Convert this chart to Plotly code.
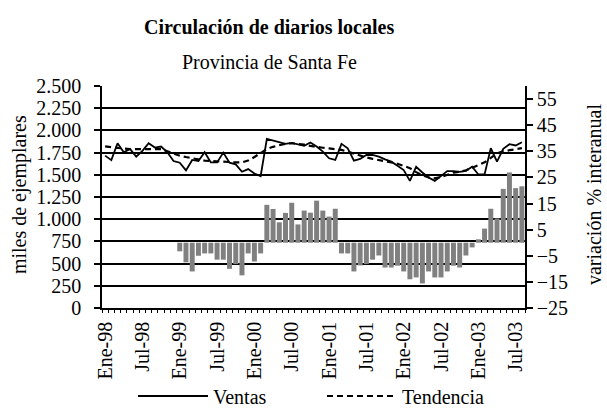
import plotly.graph_objects as go

# ---- data ----
mes_abr = ["Ene", "Feb", "Mar", "Abr", "May", "Jun", "Jul", "Ago", "Sep", "Oct", "Nov", "Dic"]
anios = ["98", "99", "00", "01", "02", "03"]
meses = [f"{m}-{a}" for a in anios for m in mes_abr][:68]  # Ene-98 .. Ago-03

tick_labels = ["Ene-98", "Jul-98", "Ene-99", "Jul-99", "Ene-00", "Jul-00",
               "Ene-01", "Jul-01", "Ene-02", "Jul-02", "Ene-03", "Jul-03"]

ventas = [1716, 1665, 1856, 1754, 1792, 1705, 1769, 1856, 1807, 1818, 1754, 1655,
          1636, 1550, 1667, 1655, 1754, 1640, 1640, 1750, 1636, 1617, 1534, 1564,
          1515, 1485, 1905, 1886, 1864, 1849, 1860, 1845, 1826, 1864, 1818, 1761,
          1686, 1667, 1849, 1799, 1659, 1678, 1723, 1723, 1705, 1674, 1648, 1602,
          1553, 1432, 1591, 1526, 1470, 1432, 1488, 1541, 1541, 1534, 1545, 1591,
          1504, 1504, 1799, 1648, 1792, 1845, 1830, 1867]

tendencia = [1820, 1810, 1800, 1795, 1790, 1790, 1790, 1795, 1795, 1790, 1765, 1740,
             1715, 1700, 1685, 1670, 1660, 1655, 1650, 1648, 1645, 1640, 1640, 1660,
             1700, 1750, 1790, 1815, 1835, 1850, 1855, 1850, 1840, 1825, 1812, 1805,
             1798, 1790, 1780, 1760, 1738, 1715, 1695, 1680, 1668, 1655, 1640, 1625,
             1600, 1575, 1530, 1495, 1470, 1460, 1475, 1500, 1525, 1535, 1550, 1580,
             1610, 1640, 1690, 1740, 1765, 1775, 1790, 1800]

variacion = [None] * 12 + [
    -3.3, -7.5, -11.0, -5.0, -4.1, -4.1, -6.5, -6.5, -10.0, -8.2, -12.5, -4.1,
    -7.2, -4.1, 14.5, 12.9, 7.8, 11.4, 15.3, 7.0, 12.3, 11.5, 16.1, 12.3,
    10.0, 13.0, -4.1, -4.1, -11.0, -8.7, -8.2, -6.5, -4.9, -9.5, -9.5, -8.8,
    -11.0, -14.0, -13.3, -15.6, -11.0, -13.3, -13.3, -11.0, -8.8, -9.5, -4.9, -1.8,
    1.3, 5.4, 13.0, 9.3, 20.6, 26.9, 20.9, 21.6]

left_ticks = list(range(0, 2501, 250))
right_ticks = list(range(-25, 56, 10))

FONT = "Liberation Serif"

fig = go.Figure()

fig.add_trace(go.Bar(
    x=meses, y=variacion, xaxis="x2", yaxis="y2",
    marker=dict(color="#808080", line=dict(width=0)),
    width=0.8, showlegend=False, name="Variación"))

fig.add_trace(go.Scatter(
    x=meses, y=ventas, mode="lines", name="Ventas",
    line=dict(color="black", width=1.8)))

fig.add_trace(go.Scatter(
    x=meses, y=tendencia, mode="lines", name="Tendencia",
    line=dict(color="black", width=2.2, dash="6px,4px")))

fig.update_layout(
    width=607, height=408,
    margin=dict(l=102, r=82, t=86, b=100, autoexpand=False),
    paper_bgcolor="white", plot_bgcolor="white",
    font=dict(family=FONT, size=20, color="black"),
    separators=",.",
    bargap=0.2,
    xaxis=dict(
        type="category", range=[-0.5, 67.5],
        tickmode="array", tickvals=[meses[i] for i in range(0, 68, 6)],
        ticktext=tick_labels, tickangle=-90, ticks="",
        showline=True, linecolor="black", linewidth=1.5,
        showgrid=False, zeroline=False, automargin=False,
        ticklabelstandoff=4,
        tickfont=dict(family=FONT, size=20)),
    xaxis2=dict(
        type="category", overlaying="x", anchor="y2", side="bottom",
        range=[-0.5, 67.5], tickmode="linear", dtick=1,
        tickson="boundaries", ticks="outside", ticklen=4, tickwidth=1,
        tickcolor="black", showticklabels=False, showgrid=False,
        showline=False, zeroline=False),
    yaxis=dict(
        range=[0, 2500], tickvals=left_ticks, tickformat=",d",
        ticks="outside", ticklen=6, tickcolor="black", tickwidth=1.5,
        showline=True, linecolor="black", linewidth=1.5,
        showgrid=True, gridcolor="black", gridwidth=1.5, zeroline=False,
        automargin=False, ticklabelstandoff=9,
        tickfont=dict(family=FONT, size=20)),
    yaxis2=dict(
        overlaying="y", side="right", anchor="x2",
        range=[-25, 60], tickvals=right_ticks,
        ticks="outside", ticklen=6, tickcolor="black", tickwidth=1.5,
        showline=True, linecolor="black", linewidth=1.5,
        showgrid=False, zeroline=False, automargin=False,
        tickfont=dict(family=FONT, size=20)),
    legend=dict(
        orientation="h", xref="container", yref="container",
        x=133 / 607, xanchor="left", y=1 - 396 / 408, yanchor="middle",
        font=dict(family=FONT, size=20), itemwidth=70,
        entrywidth=104, entrywidthmode="pixels",
        bgcolor="rgba(0,0,0,0)", traceorder="normal"),
    annotations=[
        dict(text="<b>Circulación de diarios locales</b>", xref="paper", yref="paper",
             x=0.395, y=1.266, xanchor="center", yanchor="middle", showarrow=False,
             font=dict(family=FONT, size=20)),
        dict(text="Provincia de Santa Fe", xref="paper", yref="paper",
             x=0.395, y=1.11, xanchor="center", yanchor="middle", showarrow=False,
             font=dict(family=FONT, size=20)),
        dict(text="miles de ejemplares", xref="paper", yref="paper",
             x=-0.196, y=0.509, xanchor="center", yanchor="middle", textangle=-90,
             showarrow=False, font=dict(family=FONT, size=20)),
        dict(text="variación % interanual", xref="paper", yref="paper",
             x=(594 - 102) / 423, y=0.509, xanchor="center", yanchor="middle",
             textangle=-90, showarrow=False, font=dict(family=FONT, size=20)),
    ],
)

fig.write_html("out.html", config={"displayModeBar": False},
               post_script="document.body.style.margin='0';document.body.style.overflow='hidden';")
